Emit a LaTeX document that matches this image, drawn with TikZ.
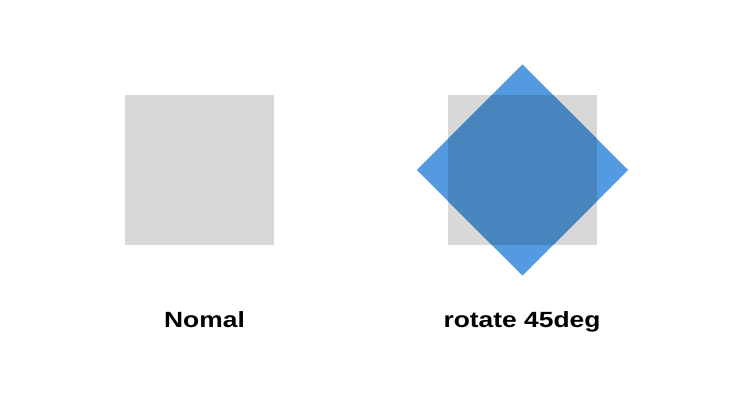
\documentclass[tikz,border=0pt]{standalone}
\usepackage{fontspec}
\newfontfamily\labelfamily{Liberation Sans}
\definecolor{graybox}{RGB}{216,216,216}
\definecolor{bluebox}{RGB}{83,154,224}
\definecolor{overlapbox}{RGB}{72,132,190}
\begin{document}
\begin{tikzpicture}[x=1pt,y=-1pt,
  sq/.style={fill=graybox,minimum size=149.5pt,inner sep=0pt,outer sep=0pt},
  lbl/.style={font=\labelfamily\bfseries\fontsize{22}{25}\selectfont,xscale=1.2,anchor=base,inner sep=0pt}]
\useasboundingbox (0,0) rectangle (736,418);
\node[sq] (normal) at (199.5,170) {};
\node[sq] (square) at (522.5,170) {};
\node[sq,fill=bluebox,rotate=45] (rotated) at (522.5,170) {};
% overlap of the turned square with the gray one
\begin{scope}
\clip (rotated.north west) -- (rotated.north east) -- (rotated.south east) -- (rotated.south west) -- cycle;
\fill[overlapbox] (square.north west) rectangle (square.south east);
\end{scope}
\node[lbl] (nomal) at (204.5,327) {Nomal};
\node[lbl] (rotlabel) at (522,327) {rotate 45deg};
\end{tikzpicture}
\end{document}
